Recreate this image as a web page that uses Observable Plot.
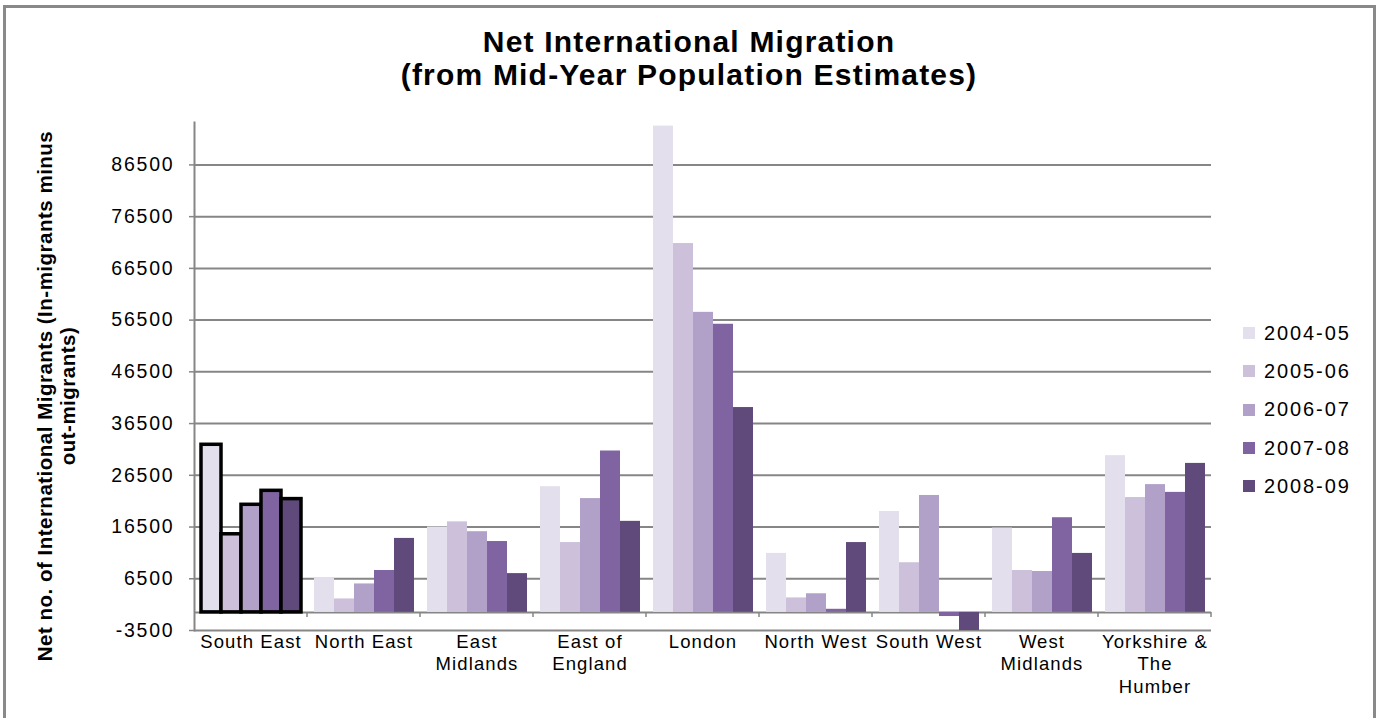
<!DOCTYPE html>
<html>
<head>
<meta charset="utf-8">
<script src="https://cdn.jsdelivr.net/npm/d3@7"></script>
<script src="https://cdn.jsdelivr.net/npm/@observablehq/plot@0.6"></script>
<style>
  html, body { margin: 0; padding: 0; background: #fff; }
  body { font-family: "Liberation Sans", Arial, sans-serif; color: #000; }
  #wrap { position: relative; width: 1378px; height: 718px; overflow: hidden; background: #fff; }
  #border { position: absolute; left: 3px; top: 5px; width: 1373px; height: 740px; border: 3px solid #898989; border-bottom: none; box-sizing: border-box; }
  #title { position: absolute; left: 0; top: 25px; width: 1378px; text-align: center; font-weight: bold; font-size: 30px; line-height: 33px; letter-spacing: 1.2px; }
  #chart { position: absolute; left: 0; top: 96px; }
  #ylabel { position: absolute; left: 56px; top: 396px; transform: translate(-50%, -50%) rotate(-90deg); white-space: nowrap; text-align: center; font-weight: bold; font-size: 20.5px; line-height: 23px; letter-spacing: 0.5px; }
  #legend { position: absolute; left: 1243px; top: 314px; }
  .li { display: flex; align-items: center; height: 38.3px; font-size: 20px; letter-spacing: 1.9px; }
  .sw { width: 12px; height: 12px; margin-right: 9px; }
  .chart g[aria-label="y-axis tick label"] text { letter-spacing: 1.8px; }
  .chart g[aria-label="fx-axis tick label"] text { letter-spacing: 1.1px; }
</style>
</head>
<body>
<div id="wrap">
  <div id="border"></div>
  <div id="title">Net International Migration<br>(from Mid-Year Population Estimates)</div>
  <div id="ylabel">Net no. of International Migrants (In-migrants minus<br>out-migrants)</div>
  <div id="chart"></div>
  <div id="legend"></div>
</div>
<script>
// ---- data ----
const regions = ["South East", "North East", "East Midlands", "East of England", "London", "North West", "South West", "West Midlands", "Yorkshire & The Humber"];
const regionLabels = ["South East", "North East", "East\nMidlands", "East of\nEngland", "London", "North West", "South West", "West\nMidlands", "Yorkshire &\nThe\nHumber"];
const years = ["2004-05", "2005-06", "2006-07", "2007-08", "2008-09"];
const colors = ["#e4dfec", "#ccc0da", "#b1a0c7", "#8064a2", "#604a7b"];
const v2004_05 = [32400, 6600, 16500, 24300, 94000, 11400, 19500, 16300, 30300];
const v2005_06 = [15100, 2600, 17500, 13500, 71300, 2800, 9600, 8100, 22200];
const v2006_07 = [20800, 5500, 15600, 22000, 58000, 3600, 22600, 7900, 24700];
const v2007_08 = [23500, 8100, 13700, 31200, 55700, 600, -800, 18300, 23200];
const v2008_09 = [21900, 14300, 7500, 17600, 39600, 13500, -3500, 11400, 28800];
const yTicks = [-3500, 6500, 16500, 26500, 36500, 46500, 56500, 66500, 76500, 86500];
const yDomain = [-3500, 94700];

// ---- build ----
const series = [v2004_05, v2005_06, v2006_07, v2007_08, v2008_09];
const data = regions.flatMap((r, i) => years.map((y, j) => ({region: r, year: y, value: series[j][i]})));
const labelOf = new Map(regions.map((r, i) => [r, regionLabels[i]]));
const grid = "#868686";

const chart = Plot.plot({
  className: "chart",
  width: 1378,
  height: 620,
  marginLeft: 193,
  marginRight: 167,
  marginTop: 26,
  marginBottom: 86,
  style: {fontFamily: '"Liberation Sans", Arial, sans-serif', background: "transparent", color: "#000"},
  fx: {domain: regions, padding: 0, label: null},
  x: {domain: years, paddingInner: 0, paddingOuter: 0.25, axis: null},
  y: {domain: yDomain, label: null},
  color: {domain: years, range: colors},
  marks: [
    Plot.ruleY(yTicks, {stroke: grid, strokeWidth: 2}),
    Plot.ruleY([0], {stroke: grid, strokeWidth: 2}),
    Plot.barY(data, {fx: "region", x: "year", y: "value", fill: "year", inset: 0}),
    Plot.barY(data.filter(d => d.region === regions[0]), {fx: "region", x: "year", y: "value", fill: "year", inset: 0, stroke: "#000", strokeWidth: 3.5}),
    Plot.ruleY([0], {
      stroke: grid,
      render: (index, scales, values, dims) => {
        const x = dims.width - dims.marginRight;
        const y0 = scales.y(0);
        return d3.create("svg:line")
          .attr("x1", x).attr("x2", x).attr("y1", y0).attr("y2", y0 + 5)
          .attr("stroke", grid).attr("stroke-width", 1.5).node();
      }
    }),
    Plot.frame({anchor: "left", facetAnchor: "left", stroke: grid, strokeWidth: 2}),
    Plot.axisY({ticks: yTicks, tickSize: 5, tickPadding: 15, fontSize: 19.5, stroke: grid, strokeWidth: 1.5, strokeOpacity: 1, label: null, tickFormat: d => String(d)}),
    Plot.axisFx({anchor: "bottom", tickSize: 0, tickPadding: 1, fontSize: 18.5, lineHeight: 1.22, label: null, tickFormat: r => labelOf.get(r)})
  ]
});
document.getElementById("chart").appendChild(chart);

// legend
const legend = document.getElementById("legend");
years.forEach((y, j) => {
  const row = document.createElement("div");
  row.className = "li";
  const sw = document.createElement("span");
  sw.className = "sw";
  sw.style.background = colors[j];
  row.appendChild(sw);
  row.appendChild(document.createTextNode(y));
  legend.appendChild(row);
});
</script>
</body>
</html>
